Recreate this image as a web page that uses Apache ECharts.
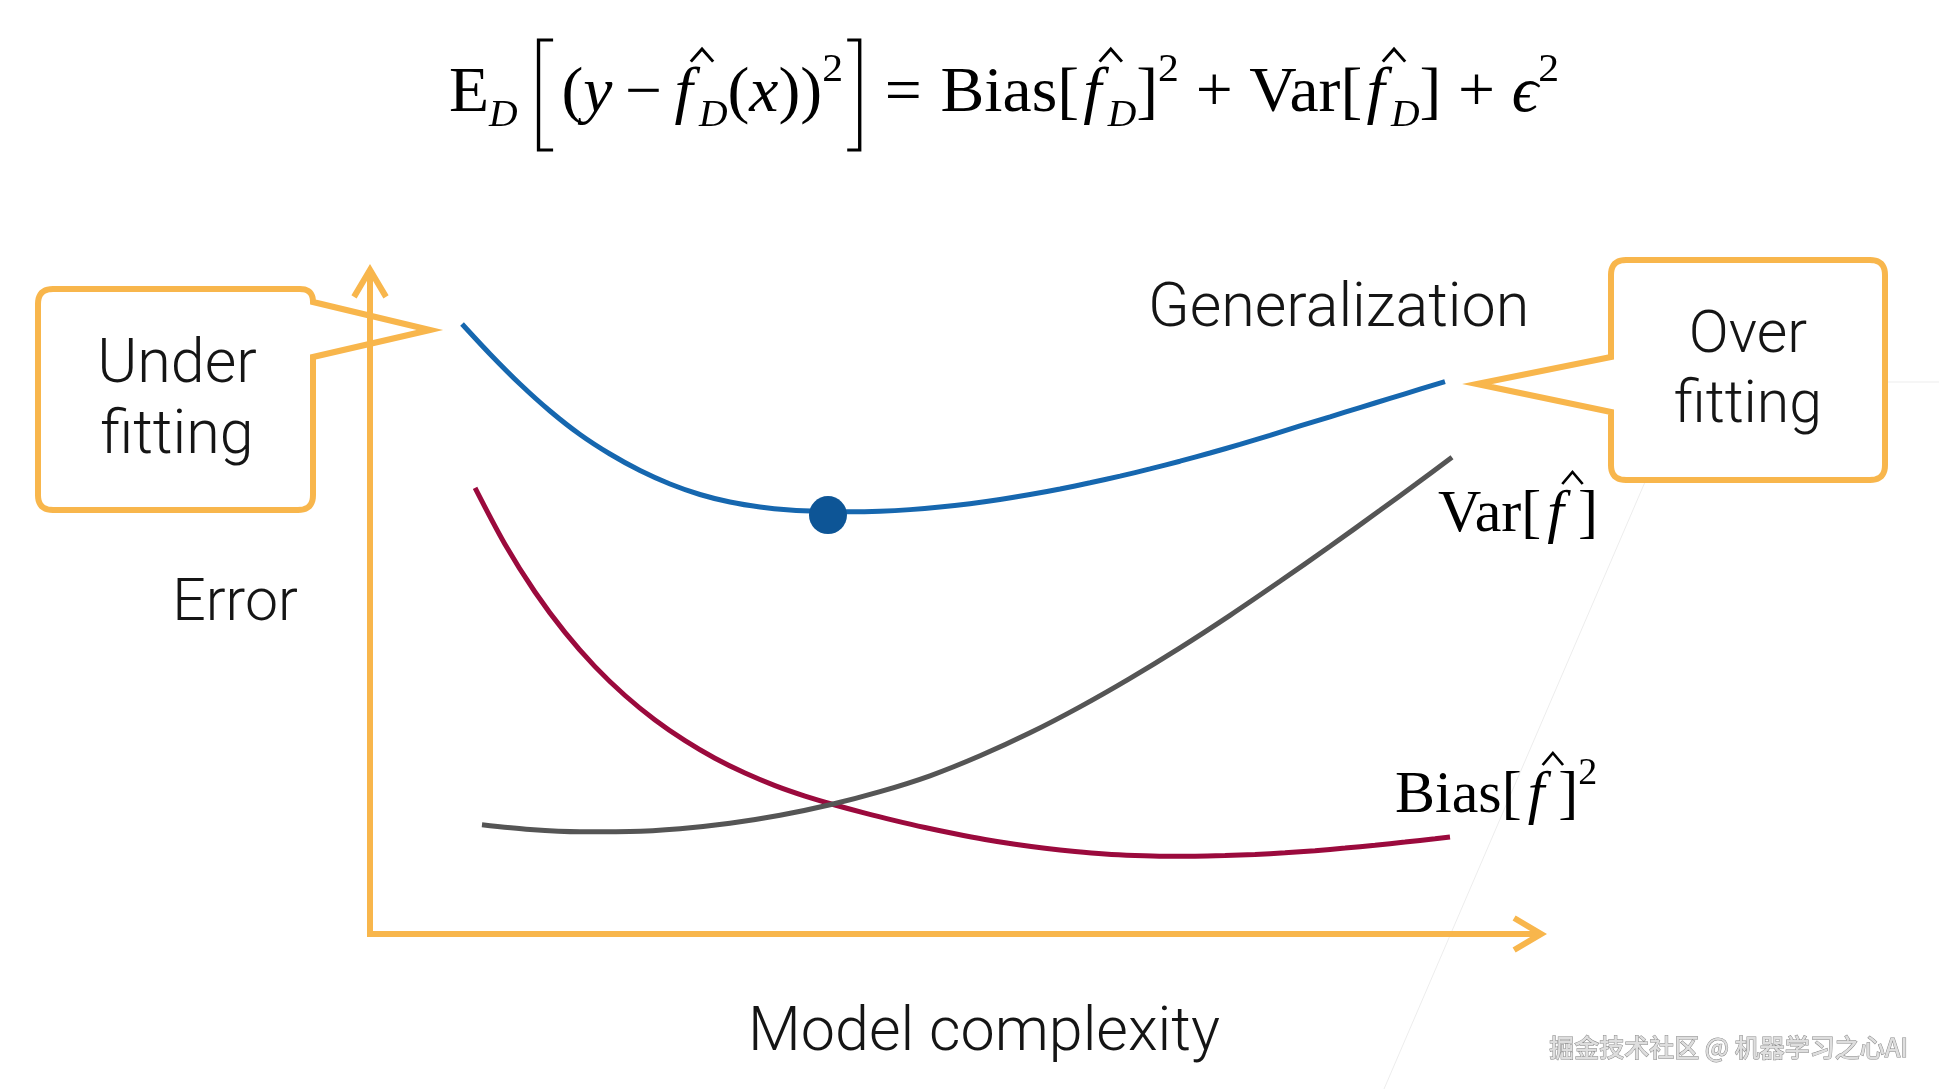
<!DOCTYPE html>
<html>
<head>
<meta charset="utf-8">
<script src="https://cdn.jsdelivr.net/npm/echarts@6/dist/echarts.min.js"></script>
<style>html,body{margin:0;padding:0;background:#fff}#c{width:1939px;height:1089px}</style>
</head>
<body>
<div id="c"></div>
<script>
// ---------- data (x: model complexity, y: error; arbitrary units) ----------
const seriesNames = ['Generalization', 'Bias²', 'Variance'];
const generalization = [[7.85,91.59],[10.23,87.09],[12.79,82.58],[15.35,78.53],[17.91,75.00],[20.47,72.07],[23.03,69.59],[25.59,67.57],[28.14,65.99],[30.70,64.86],[33.26,64.11],[35.82,63.66],[38.38,63.45],[40.94,63.39],[43.50,63.48],[46.06,63.72],[48.61,64.10],[51.17,64.61],[53.73,65.24],[56.29,65.98],[58.85,66.82],[61.41,67.75],[63.97,68.75],[66.52,69.83],[69.08,70.99],[71.64,72.22],[74.20,73.51],[76.76,74.86],[79.32,76.28],[81.88,77.66],[84.43,79.04],[86.99,80.42],[89.55,81.80],[91.68,82.94]];
const biasSquared = [[8.96,66.97],[11.51,58.51],[14.07,51.35],[16.63,45.29],[19.19,40.15],[21.75,35.81],[24.31,32.13],[26.87,29.02],[29.42,26.38],[31.98,24.16],[34.54,22.28],[37.10,20.71],[39.66,19.37],[42.22,18.15],[44.78,17.03],[47.33,15.99],[49.89,15.05],[52.45,14.20],[55.01,13.48],[57.57,12.88],[60.13,12.39],[62.69,12.01],[65.25,11.79],[67.80,11.68],[70.36,11.68],[72.92,11.77],[75.48,11.95],[78.04,12.19],[80.60,12.51],[83.16,12.90],[85.71,13.32],[88.27,13.80],[90.83,14.31],[92.11,14.58]];
const variance = [[9.55,16.40],[13.65,15.69],[17.91,15.35],[22.17,15.39],[26.44,15.81],[30.70,16.62],[34.97,17.82],[39.23,19.40],[43.50,21.37],[47.76,23.75],[52.03,26.76],[56.29,30.21],[60.55,34.11],[64.82,38.39],[69.08,42.97],[73.35,47.85],[77.61,52.96],[81.88,58.21],[86.14,63.62],[89.21,67.57],[92.28,71.59]];
const optimum = [[39.06,62.9]];
const axisNames = ['Model complexity', 'Error'];
const calloutTexts = [['Under', 'fitting'], ['Over', 'fitting']];
const watermark = '掘金技术社区 @ 机器学习之心AI';

// ---------- styles ----------
const ORANGE = '#F8B64C';
const SERIF = '"Liberation Serif","Times New Roman",serif';
const SANS = '300 {s}px Roboto,"Noto Sans",sans-serif';
const K_SANS = 0.26, K_SERIF = 0.28; // baseline -> middle offset factors

const mctx = document.createElement('canvas').getContext('2d');

function sansText(t, x, baseline, size, align) {
  return {type:'text', x:x, y:baseline - size*K_SANS, z:5,
    style:{text:t, font:SANS.replace('{s}', size), fill:'#151515', textAlign:align||'center', textVerticalAlign:'middle'}};
}

function mathGroup(x0, y0, segs, targetW) {
  const ch = []; let x = 0;
  for (const g of segs) {
    if (g.gap) { x += g.gap; continue; }
    if (g.br) {
      const w = g.w;
      const pts = g.br === 'L'
        ? [[x+w, g.top],[x+2, g.top],[x+2, g.bot],[x+w, g.bot]]
        : [[x, g.top],[x+w-2, g.top],[x+w-2, g.bot],[x, g.bot]];
      ch.push({type:'polyline', shape:{points:pts}, style:{stroke:'#000', lineWidth:3.2, fill:null, lineJoin:'miter'}});
      x += w; continue;
    }
    const f = (g.i ? 'italic ' : '') + g.s + 'px ' + SERIF;
    mctx.font = f;
    const w = mctx.measureText(g.t).width;
    ch.push({type:'text', x:x, y:(g.dy||0) - g.s*K_SERIF,
      style:{text:g.t, font:f, fill:'#000', textAlign:'left', textVerticalAlign:'middle'}});
    if (g.hat) {
      const cx = x + g.s*0.42, hw = g.s*0.17;
      ch.push({type:'polyline', shape:{points:[[cx-hw, -g.s*0.8],[cx, -g.s*1.0],[cx+hw, -g.s*0.8]]},
        style:{stroke:'#000', lineWidth:g.s*0.045, fill:null, lineJoin:'miter'}});
    }
    x += w;
  }
  const sx = targetW ? targetW / x : 1;
  return {type:'group', x:x0, y:y0, scaleX:sx, z:5, children:ch};
}

function roundPoly(verts) {
  const out = []; const n = verts.length;
  for (let i = 0; i < n; i++) {
    const [x, y, r] = verts[i];
    if (!r) { out.push([x, y]); continue; }
    const p = verts[(i-1+n)%n], q = verts[(i+1)%n];
    const d1 = Math.hypot(p[0]-x, p[1]-y), d2 = Math.hypot(q[0]-x, q[1]-y);
    const a = [x + (p[0]-x)/d1*r, y + (p[1]-y)/d1*r];
    const b = [x + (q[0]-x)/d2*r, y + (q[1]-y)/d2*r];
    for (let k = 0; k <= 10; k++) {
      const t = k/10;
      out.push([(1-t)*(1-t)*a[0] + 2*(1-t)*t*x + t*t*b[0], (1-t)*(1-t)*a[1] + 2*(1-t)*t*y + t*t*b[1]]);
    }
  }
  return out;
}

const S = 63, SUB = {s:38, i:1, dy:15}, SUP = {s:40, dy:-30};
const formula = [
  {t:'E', s:S}, Object.assign({t:'D'}, SUB), {gap:18},
  {br:'L', w:16, top:-72, bot:38}, {gap:8},
  {t:'(', s:S}, {t:'y', s:S, i:1}, {gap:12}, {t:'\u2212', s:S}, {gap:12},
  {t:'f', s:S, i:1, hat:1}, {gap:6}, Object.assign({t:'D'}, SUB), {t:'(', s:S}, {t:'x', s:S, i:1}, {t:'))', s:S},
  Object.assign({t:'2'}, SUP), {gap:4}, {br:'R', w:14, top:-72, bot:38},
  {gap:22}, {t:'=', s:S}, {gap:18},
  {t:'Bias[', s:S}, {gap:4}, {t:'f', s:S, i:1, hat:1}, {gap:6}, Object.assign({t:'D'}, SUB), {t:']', s:S}, Object.assign({t:'2'}, SUP),
  {gap:16}, {t:'+', s:S}, {gap:16},
  {t:'Var[', s:S}, {gap:4}, {t:'f', s:S, i:1, hat:1}, {gap:6}, Object.assign({t:'D'}, SUB), {t:']', s:S},
  {gap:16}, {t:'+', s:S}, {gap:16},
  {t:'\u03F5', s:S, i:1}, Object.assign({t:'2'}, SUP)
];
const varLabel = [{t:'Var[', s:60}, {gap:6}, {t:'f', s:60, i:1, hat:1}, {gap:14}, {t:']', s:60}];
const biasLabel = [{t:'Bias[', s:60}, {gap:6}, {t:'f', s:60, i:1, hat:1}, {gap:14}, {t:']', s:60}, {t:'2', s:38, dy:-28}];

const ARROW = 'path://M18.6,0 L0,31.35 L5.2,34.4 L18.6,11.8 L32,34.4 L37.2,31.35 Z';
const axisCommon = {
  type:'value', min:0,
  axisLine:{show:true, symbol:['none', ARROW], symbolSize:[37.2, 34.4], symbolOffset:[0, -9.2],
    lineStyle:{color:ORANGE, width:6, cap:'square'}},
  axisTick:{show:false}, axisLabel:{show:false}, splitLine:{show:false}
};

const chart = echarts.init(document.getElementById('c'), null, {renderer:'canvas'});
chart.setOption({
  animation:false,
  backgroundColor:'#ffffff',
  grid:{left:370, right:400, top:272, bottom:155, containLabel:false},
  xAxis:Object.assign({}, axisCommon, {max:99.7}),
  yAxis:Object.assign({}, axisCommon, {max:99.4}),
  series:[
    {name:seriesNames[1], type:'line', data:biasSquared, smooth:0.3, showSymbol:false, z:2,
      lineStyle:{color:'#9B0A3D', width:5}},
    {name:seriesNames[2], type:'line', data:variance, smooth:0.3, showSymbol:false, z:3,
      lineStyle:{color:'#555555', width:5}},
    {name:seriesNames[0], type:'line', data:generalization, smooth:0.3, showSymbol:false, z:4,
      lineStyle:{color:'#1667AF', width:5}},
    {name:'optimum', type:'scatter', data:optimum, symbolSize:38, z:5, itemStyle:{color:'#0D5596', opacity:1}}
  ],
  graphic:[
    {type:'line', shape:{x1:1645, y1:482, x2:1384, y2:1089}, style:{stroke:'#ededed', lineWidth:1}, z:0},
    {type:'line', shape:{x1:1888, y1:382, x2:1939, y2:382}, style:{stroke:'#ededed', lineWidth:1}, z:0},
    {type:'polygon', shape:{points:roundPoly([[430,330,0],[313,357,0],[313,510,15],[38,510,15],[38,289,15],[313,289,13],[313,302,0]])},
      style:{stroke:ORANGE, lineWidth:6, fill:null, lineJoin:'miter', miterLimit:10}, z:6},
    {type:'polygon', shape:{points:roundPoly([[1477,384,0],[1611,357,0],[1611,260,15],[1885,260,15],[1885,480,15],[1611,480,15],[1611,412,0]])},
      style:{stroke:ORANGE, lineWidth:6, fill:null, lineJoin:'miter', miterLimit:10}, z:6},
    sansText(calloutTexts[0][0], 177, 383, 61),
    sansText(calloutTexts[0][1], 177, 454, 61),
    sansText(calloutTexts[1][0], 1748, 353, 59),
    sansText(calloutTexts[1][1], 1748, 423, 59),
    sansText(axisNames[1], 235, 621, 59),
    sansText(axisNames[0], 984, 1051, 61),
    sansText(seriesNames[0], 1148, 327, 61, 'left'),
    mathGroup(449, 112, formula, 1110),
    mathGroup(1438, 532, varLabel),
    mathGroup(1395, 813, biasLabel),
    {type:'text', x:1908, y:1047, z:5,
      style:{text:watermark, font:'500 25px "Noto Sans CJK SC",sans-serif', fill:'#dedede', stroke:'#8a8a8a', lineWidth:1,
        textAlign:'right', textVerticalAlign:'middle'}}
  ]
});
</script>
</body>
</html>
